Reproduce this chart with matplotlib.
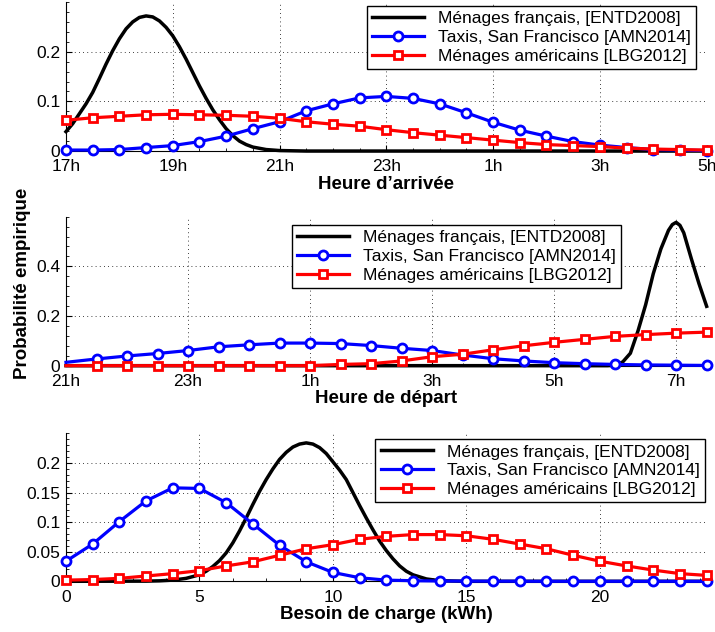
import matplotlib
matplotlib.use("Agg")
import matplotlib.pyplot as plt
from matplotlib.ticker import AutoMinorLocator
import numpy as np

plt.rcParams['font.family'] = ['Liberation Sans', 'DejaVu Sans']

labels = ['Ménages français, [ENTD2008]',
          'Taxis, San Francisco [AMN2014]',
          'Ménages américains [LBG2012]']

# --- panel 1 : heure d'arrivée (17h -> 5h, en heures depuis minuit)
arr_h = np.arange(17, 29.01, 0.5)
arr_taxi = [0.002, 0.002, 0.003, 0.007, 0.011, 0.019, 0.030, 0.045, 0.059, 0.081,
            0.095, 0.107, 0.110, 0.106, 0.095, 0.077, 0.058, 0.042, 0.030, 0.019,
            0.012, 0.007, 0.003, 0.002, 0.001]
arr_us = [0.062, 0.067, 0.070, 0.073, 0.074, 0.073, 0.072, 0.070, 0.066, 0.059,
          0.054, 0.050, 0.043, 0.037, 0.032, 0.027, 0.022, 0.017, 0.013, 0.011,
          0.009, 0.006, 0.004, 0.003, 0.002]
arr_fr_h = [17.0, 17.125, 17.25, 17.375, 17.5, 17.625, 17.75, 17.875, 18.0, 18.125,
            18.25, 18.375, 18.5, 18.625, 18.75, 18.875, 19.0, 19.125, 19.25, 19.375,
            19.5, 19.625, 19.75, 19.875, 20.0, 20.125, 20.25, 20.375, 20.5, 20.75,
            21.0, 21.5, 29.0]
arr_fr = [0.039, 0.055, 0.075, 0.095, 0.118, 0.146, 0.175, 0.202, 0.226, 0.246,
          0.260, 0.269, 0.272, 0.270, 0.262, 0.249, 0.232, 0.210, 0.185, 0.158,
          0.131, 0.106, 0.083, 0.063, 0.045, 0.031, 0.020, 0.013, 0.008, 0.003,
          0.001, 0.0, 0.0]

# --- panel 2 : heure de départ (21h -> 7h30)
dep_h = np.arange(21, 31.51, 0.5)
dep_taxi = [0.0135, 0.027, 0.039, 0.049, 0.061, 0.076, 0.084, 0.091, 0.091, 0.089,
            0.081, 0.070, 0.061, 0.043, 0.028, 0.019, 0.012, 0.008, 0.005, 0.003,
            0.002, 0.001]
dep_us = [0.0, 0.0, 0.0, 0.0, 0.0, 0.0, 0.0, 0.0, 0.0, 0.005,
          0.008, 0.019, 0.036, 0.046, 0.064, 0.080, 0.094, 0.106, 0.118, 0.125,
          0.131, 0.135]
dep_fr_h = [21.0, 29.875, 30.0, 30.125, 30.25, 30.375, 30.5, 30.625, 30.75, 30.875,
            30.9375, 31.0, 31.0625, 31.125, 31.25, 31.375, 31.5]
dep_fr = [0.0, 0.0, 0.002, 0.015, 0.05, 0.14, 0.245, 0.37, 0.47, 0.545,
          0.568, 0.577, 0.565, 0.535, 0.43, 0.33, 0.239]

# --- panel 3 : besoin de charge (kWh)
kwh = np.arange(0, 25)
kwh_taxi = [0.034, 0.063, 0.101, 0.136, 0.158, 0.157, 0.133, 0.097, 0.061, 0.033,
            0.015, 0.006, 0.002, 0.001, 0.0005, 0.0003, 0.0002, 0.0001, 0.0, 0.0,
            0.0, 0.0, 0.0, 0.0, 0.0]
kwh_us = [0.002, 0.003, 0.005, 0.009, 0.013, 0.018, 0.026, 0.033, 0.044, 0.055,
          0.062, 0.071, 0.076, 0.079, 0.079, 0.077, 0.071, 0.063, 0.055, 0.044,
          0.034, 0.026, 0.019, 0.013, 0.010]
kwh_fr_x = [0, 3, 3.5, 4, 4.5, 5, 5.25, 5.5, 5.75, 6, 6.25, 6.5, 6.75, 7, 7.25,
            7.5, 7.75, 8, 8.25, 8.5, 8.75, 9, 9.25, 9.5, 9.75, 10, 10.25, 10.5,
            10.75, 11, 11.25, 11.5, 11.75, 12, 12.25, 12.5, 12.75, 13, 13.5, 14,
            15, 24]
kwh_fr = [0.0, 0.0003, 0.0008, 0.002, 0.005, 0.011, 0.017, 0.025, 0.035, 0.048,
          0.065, 0.085, 0.107, 0.130, 0.152, 0.172, 0.190, 0.206, 0.218, 0.227,
          0.232, 0.234, 0.232, 0.226, 0.216, 0.202, 0.188, 0.172, 0.150, 0.128,
          0.107, 0.087, 0.068, 0.052, 0.038, 0.026, 0.017, 0.011, 0.004, 0.001,
          0.0, 0.0]

fig = plt.figure(figsize=(7.15, 6.32), dpi=100)
ax1 = fig.add_axes([0.0923, 0.761, 0.896, 0.2358])
ax2 = fig.add_axes([0.0923, 0.4214, 0.896, 0.2358])
ax3 = fig.add_axes([0.0923, 0.0802, 0.896, 0.234])

panels = [
    (ax1, arr_fr_h, arr_fr, arr_h, arr_taxi, arr_us, slice(0, None)),
    (ax2, dep_fr_h, dep_fr, dep_h, dep_taxi, dep_us, slice(1, None)),
    (ax3, kwh_fr_x, kwh_fr, kwh, kwh_taxi, kwh_us, slice(0, None)),
]
for ax, fx, fy, x, taxi, us, mk in panels:
    ax.plot(fx, fy, color='black', lw=2.5, label=labels[0], clip_on=False, zorder=3)
    ax.plot(x, taxi, color='blue', lw=2.3, marker='o', ms=6.5, mew=2,
            mfc='white', markevery=mk, label=labels[1], clip_on=False, zorder=4)
    ax.plot(x, us, color='red', lw=2.3, marker='s', ms=5.5, mew=2,
            mfc='white', markevery=mk, label=labels[2], clip_on=False, zorder=5)
    ax.spines['top'].set_visible(False)
    ax.spines['right'].set_visible(False)
    ax.grid(True, color='black', linestyle=(0, (1, 4)), lw=0.6)
    ax.tick_params(direction='in', length=4, labelsize=12.5, pad=4)
    ax.tick_params(axis='x', pad=6)
    ax.tick_params(which='minor', direction='in', length=2)
    ax.xaxis.set_minor_locator(AutoMinorLocator(4))
    ax.yaxis.set_minor_locator(AutoMinorLocator(5))

ax1.set_xlim(17, 29)
ax1.set_ylim(0, 0.3)
ax1.set_xticks([17, 19, 21, 23, 25, 27, 29])
ax1.set_xticklabels(['17h', '19h', '21h', '23h', '1h', '3h', '5h'])
ax1.set_yticks([0, 0.1, 0.2])
ax1.set_yticklabels(['0', '0.1', '0.2'])
ax1.set_xlabel("Heure d’arrivée", fontsize=13.5, fontweight='bold', labelpad=1)

ax2.set_xlim(21, 31.5)
ax2.set_ylim(0, 0.6)
ax2.set_xticks([21, 23, 25, 27, 29, 31])
ax2.set_xticklabels(['21h', '23h', '1h', '3h', '5h', '7h'])
ax2.set_yticks([0, 0.2, 0.4])
ax2.set_yticklabels(['0', '0.2', '0.4'])
ax2.set_xlabel('Heure de départ', fontsize=13.5, fontweight='bold', labelpad=1)

ax3.set_xlim(0, 24)
ax3.set_ylim(0, 0.25)
ax3.set_xticks([0, 5, 10, 15, 20])
ax3.set_yticks([0, 0.05, 0.1, 0.15, 0.2])
ax3.set_yticklabels(['0', '0.05', '0.1', '0.15', '0.2'])
ax3.set_xlabel('Besoin de charge (kWh)', fontsize=13.5, fontweight='bold', labelpad=1)

fig.text(0.031, 0.552, 'Probabilité empirique', rotation=90, fontsize=13.5,
         fontweight='bold', ha='center', va='center')

for ax, anchor in [(ax1, (0.984, 0.973)), (ax2, (0.867, 0.944)), (ax3, (0.997, 0.961))]:
    leg = ax.legend(loc='upper right', bbox_to_anchor=anchor, fontsize=12.5,
                    numpoints=1, handlelength=3, fancybox=False, framealpha=1,
                    edgecolor='black', borderpad=0.3, labelspacing=0.2,
                    handletextpad=0.8, borderaxespad=0)
    leg.get_frame().set_linewidth(1.0)
    leg.set_zorder(10)

fig.savefig('out.png', dpi=100)
